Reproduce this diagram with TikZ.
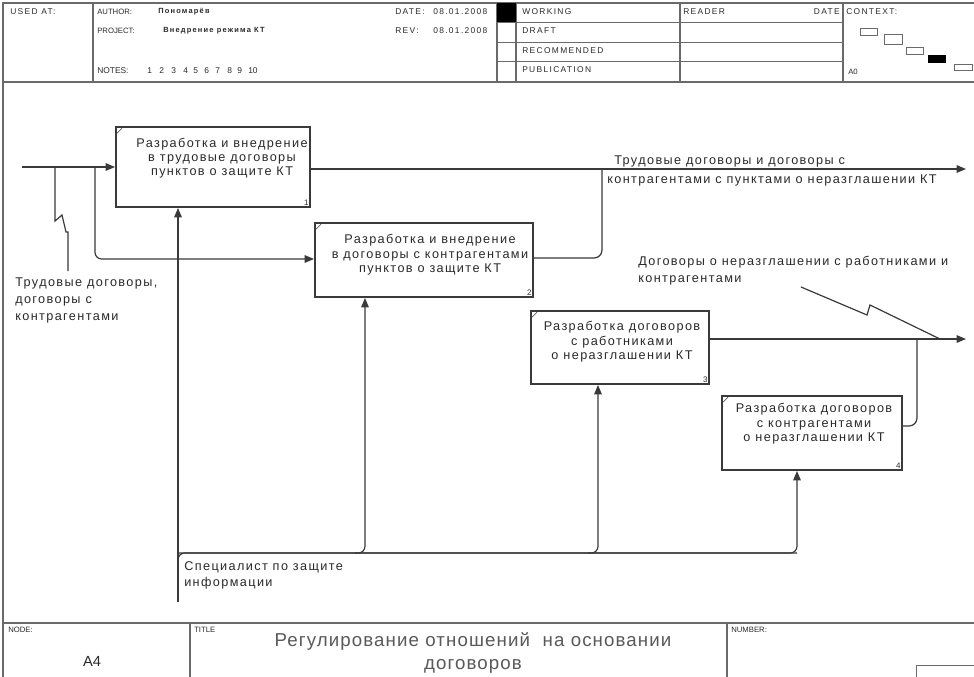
\documentclass[tikz,border=0pt]{standalone}
\usepackage{fontspec}
\setmainfont{Liberation Sans}
\newfontfamily\wideface[LetterSpace=11]{Liberation Sans}
\newfontfamily\hdrface[LetterSpace=16]{Liberation Sans}
\newfontfamily\titleface[LetterSpace=6]{Liberation Sans}
\usetikzlibrary{arrows.meta,calc}
\definecolor{ink}{HTML}{3A3A3A}
\definecolor{txt}{HTML}{2A2A2A}
\definecolor{frame}{HTML}{6A6A6A}
\tikzset{
  funcbox/.style={draw=ink,line width=1.4pt,fill=white,inner sep=0pt},
  boxtext/.style={anchor=north,align=center,font=\wideface\fontsize{9.5}{10.8}\selectfont,text=txt,inner sep=0pt},
  boxnum/.style={anchor=south east,font=\fontsize{6}{7}\selectfont,text=txt,inner sep=1.5pt},
  arr/.style={draw=ink,line width=0.9pt,-{Triangle[length=7pt,width=5.6pt]}},
  link/.style={draw=ink,line width=0.9pt},
  lbl/.style={anchor=north west,align=left,font=\wideface\fontsize{9.5}{12.6}\selectfont,text=txt,inner sep=0pt},
  hdr/.style={anchor=west,font=\fontsize{5.8}{6.5}\selectfont,text=txt,inner sep=0pt},
  hdrw/.style={anchor=west,font=\hdrface\fontsize{6.3}{7}\selectfont,text=txt,inner sep=0pt},
  fr/.style={draw=frame,line width=1.1pt},
  thin/.style={draw=frame,line width=0.7pt}
}
\begin{document}
\begin{tikzpicture}[x=0.75pt,y=-0.75pt]
\useasboundingbox[fill=white] (0,0) rectangle (974,676);

% ---------- header block ----------
\draw[fr] (3,82) -- (3,3) -- (980,3);
\draw[fr] (3,82) -- (980,82);
\draw[fr] (93,3) -- (93,82);
\draw[fr] (497,3) -- (497,82);
\draw[fr] (516,3) -- (516,82);
\draw[fr] (680,3) -- (680,82);
\draw[fr] (843,3) -- (843,82);
\foreach \yy in {22,42,61} \draw[thin] (497,\yy) -- (843,\yy);
\fill[black] (497,3) rectangle (516,22);

\node[hdrw] (usedat) at (10,12) {USED AT:};
\node[hdr] (author) at (97,12) {AUTHOR:};
\node[hdrw,font=\hdrface\bfseries\fontsize{5.6}{6.5}\selectfont] (authorname) at (158,12) {Пономарёв};
\node[hdr] (project) at (97,31) {PROJECT:};
\node[hdrw,font=\hdrface\bfseries\fontsize{5.6}{6.5}\selectfont] (projname) at (163,31) {Внедрение режима КТ};
\node[hdr,font=\fontsize{6.3}{7}\selectfont] (notes) at (97,71) {NOTES:};
\foreach \n/\xx in {1/147,2/159,3/171,4/183,5/193,6/204,7/215,8/227,9/237,10/248}
  \node[hdr,font=\fontsize{6.3}{7}\selectfont] (note\n) at (\xx,71) {\n};
\node[hdrw] (date) at (395,12) {DATE:};
\node[hdrw] (dateval) at (433,12) {08.01.2008};
\node[hdrw] (rev) at (395,31) {REV:};
\node[hdrw] (revval) at (433,31) {08.01.2008};
\node[hdrw] (working) at (522,12) {WORKING};
\node[hdrw] (draft) at (522,31) {DRAFT};
\node[hdrw] (recom) at (522,51) {RECOMMENDED};
\node[hdrw] (publ) at (522,70) {PUBLICATION};
\node[hdrw] (reader) at (683,12) {READER};
\node[hdrw,anchor=east] (rdate) at (840,12) {DATE};
\node[hdrw] (context) at (846,12) {CONTEXT:};
\node[hdr] (ctxnode) at (848,72) {A0};
% context thumbnails
\draw[thin,fill=white] (860,28) rectangle (877,35);
\draw[thin,fill=white] (884,34) rectangle (902,44);
\draw[thin,fill=white] (906,47) rectangle (923,54);
\fill[black] (928,55) rectangle (946,63);
\draw[thin,fill=white] (954,64) rectangle (972,70);

% ---------- drawing frame and footer ----------
\draw[fr] (3,82) -- (3,690);
\draw[fr] (3,623) -- (980,623);
\draw[fr] (190,623) -- (190,690);
\draw[fr] (727,623) -- (727,690);
\draw[thin] (916,690) -- (916,665) -- (980,665);
\node[hdr] (nodelbl) at (8,630) {NODE:};
\node[font=\fontsize{11}{13}\selectfont,text=txt] (nodeno) at (92,661) {A4};
\node[hdr] (titlelbl) at (194,630) {TITLE};
\node[hdr] (numlbl) at (731,630) {NUMBER:};
\node[align=center,font=\titleface\fontsize{14}{17.5}\selectfont,text=black!65,anchor=north] (title) at (473,628)
  {Регулирование отношений\ \ на основании\\договоров};

% ---------- function boxes ----------
\node[funcbox,minimum width=145.5pt,minimum height=60pt] (b1) at (213,167) {};
\node[funcbox,minimum width=163.5pt,minimum height=55.5pt] (b2) at (424,260) {};
\node[funcbox,minimum width=133.5pt,minimum height=54.75pt] (b3) at (620,347.5) {};
\node[funcbox,minimum width=135pt,minimum height=55.5pt] (b4) at (812,433) {};
\foreach \b in {b1,b2,b3,b4}
  \draw[ink,line width=0.4pt] ($(\b.north west)+(2,7)$) -- ($(\b.north west)+(7,2)$);

\node[boxtext,font=\wideface\fontsize{9.5}{10.3}\selectfont] (t1) at ($(b1.north)+(9,12)$) {Разработка и внедрение\\в трудовые договоры\\пунктов о защите КТ};
\node[boxtext] (t2) at ($(b2.north)+(6,12)$) {Разработка и внедрение\\в договоры с контрагентами\\пунктов о защите КТ};
\node[boxtext] (t3) at ($(b3.north)+(2,11)$) {Разработка договоров\\с работниками\\о неразглашении КТ};
\node[boxtext] (t4) at ($(b4.north)+(2,8)$) {Разработка договоров\\с контрагентами\\о неразглашении КТ};
\node[boxnum] (n1) at (b1.south east) {1};
\node[boxnum] (n2) at (b2.south east) {2};
\node[boxnum] (n3) at (b3.south east) {3};
\node[boxnum] (n4) at (b4.south east) {4};

% ---------- inputs ----------
\coordinate (inL) at (22,167);
\coordinate (j1) at (95,167);
\coordinate (sq) at (55,167);
\draw[arr] (inL) -- (b1.west |- inL);
\draw[arr,rounded corners=5] (j1) -- (95,259) -- (b2.west |- 0,259);
\draw[link] (sq) -- (55,221) -- (62,215) -- (66,232) -- (68,232) -- (68,271);
\node[lbl] (inlbl) at (15,278) {Трудовые договоры,\\договоры с\\контрагентами};

% ---------- outputs ----------
\coordinate (out1) at (966,169);
\coordinate (j2) at (602,169);
\draw[arr] (b1.east |- out1) -- (out1);
\draw[link,rounded corners=6] (b2.east |- 0,258) -- (602,258) -- (j2);
\node[lbl] (out1lbl) at (614,156) {Трудовые договоры и договоры с};
\node[lbl] (out1lblb) at (607,175) {контрагентами с пунктами о неразглашении КТ};

\coordinate (out2) at (966,339);
\coordinate (j3) at (917,339);
\draw[arr] (b3.east |- out2) -- (out2);
\draw[link,rounded corners=6] (b4.east |- 0,426) -- (917,426) -- (j3);
\coordinate (sq2) at (940,339);
\draw[link] (sq2) -- (870,305) -- (867,315) -- (801,287);
\node[lbl] (out2lbl) at (638,256) {Договоры о неразглашении с работниками и\\контрагентами};

% ---------- mechanism ----------
\coordinate (m0) at (178,602);
\coordinate (m1) at (178,553);
\coordinate (m2) at (365,553);
\coordinate (m3) at (598,553);
\coordinate (m4) at (797,553);
\draw[arr] (m0) -- (m0 |- b1.south);
\draw[link,rounded corners=5] (178,560) -- (m1) -- (m4);
\draw[arr,rounded corners=5] (m1) -- (m4) -- (m4 |- b4.south);
\draw[arr,rounded corners=5] ($(m2)+(-10,0)$) -- (m2) -- (m2 |- b2.south);
\draw[arr,rounded corners=5] ($(m3)+(-10,0)$) -- (m3) -- (m3 |- b3.south);
\node[lbl] (mlbl) at (184,561) {Специалист по защите\\информации};
\end{tikzpicture}
\end{document}
